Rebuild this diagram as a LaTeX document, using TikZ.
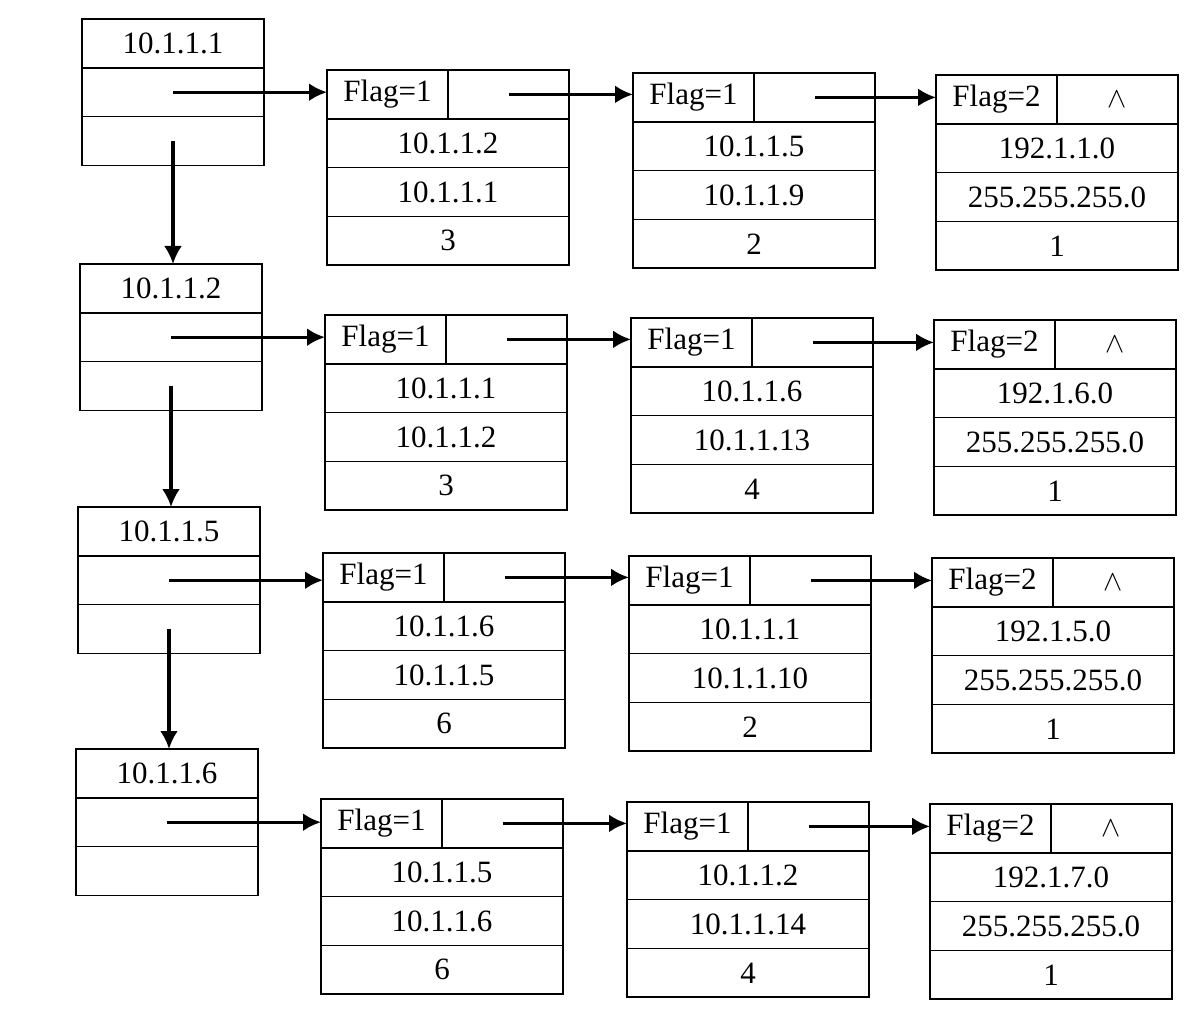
\documentclass[tikz,border=0pt]{standalone}
\usepackage{fontspec}
\setmainfont{Liberation Serif}
\usetikzlibrary{arrows.meta, positioning}
\tikzset{
    cell/.style={
        rectangle, draw=black, line width=0.8pt, inner sep=0pt, outer sep=0pt,
        minimum height=24.4pt, text centered, font=\fontsize{15.5}{18}\selectfont
    },
    headcell/.style={cell, minimum width=91pt},
    reccell/.style={cell, minimum width=121pt},
    halfcell/.style={cell, minimum width=60.5pt},
    link/.style={draw=black, line width=1.6pt, -{Latex[length=9pt, width=9pt]}}
}

\begin{document}
\begin{tikzpicture}[x=0.5pt, y=-0.5pt]
    \useasboundingbox (0,0) rectangle (1198,1015);

    % One row per head node: head x / head top / record shift / texts
    \foreach \r/\hx/\hy/\dy/\ip/\aa/\ab/\ac/\ba/\bb/\bc/\net in {
        1/82/19/51/10.1.1.1/10.1.1.2/10.1.1.1/3/10.1.1.5/10.1.1.9/2/192.1.1.0,
        2/80/264/51/10.1.1.2/10.1.1.1/10.1.1.2/3/10.1.1.6/10.1.1.13/4/192.1.6.0,
        3/78/507/46/10.1.1.5/10.1.1.6/10.1.1.5/6/10.1.1.1/10.1.1.10/2/192.1.5.0,
        4/76/749/50/10.1.1.6/10.1.1.5/10.1.1.6/6/10.1.1.2/10.1.1.14/4/192.1.7.0} {

        % Head node
        \node[headcell, anchor=north west] (h\r-a) at (\hx,\hy) {\ip};
        \node[headcell, below=0pt of h\r-a] (h\r-b) {};
        \node[headcell, below=0pt of h\r-b] (h\r-c) {};

        % First record
        \node[halfcell, anchor=north west] (a\r-f) at (\hx+245,\hy+\dy) {Flag=1};
        \node[halfcell, right=0pt of a\r-f] (a\r-p) {};
        \node[reccell, anchor=north west] (a\r-1) at (a\r-f.south west) {\aa};
        \node[reccell, below=0pt of a\r-1] (a\r-2) {\ab};
        \node[reccell, below=0pt of a\r-2] (a\r-3) {\ac};

        % Second record
        \node[halfcell, anchor=north west] (b\r-f) at (\hx+551,\hy+\dy+3) {Flag=1};
        \node[halfcell, right=0pt of b\r-f] (b\r-p) {};
        \node[reccell, anchor=north west] (b\r-1) at (b\r-f.south west) {\ba};
        \node[reccell, below=0pt of b\r-1] (b\r-2) {\bb};
        \node[reccell, below=0pt of b\r-2] (b\r-3) {\bc};

        % Last record
        \node[halfcell, anchor=north west] (c\r-f) at (\hx+854,\hy+\dy+5) {Flag=2};
        \node[halfcell, right=0pt of c\r-f] (c\r-p) {\raisebox{-2pt}{\fontsize{14}{15}\selectfont$\wedge$}};
        \node[reccell, anchor=north west] (c\r-1) at (c\r-f.south west) {\net};
        \node[reccell, below=0pt of c\r-1] (c\r-2) {255.255.255.0};
        \node[reccell, below=0pt of c\r-2] (c\r-3) {1};

        % Links along the row
        \draw[link] (h\r-b.center) -- (h\r-b.center -| a\r-f.west);
        \draw[link] (a\r-p.center) -- (a\r-p.center -| b\r-f.west);
        \draw[link] (b\r-p.center) -- (b\r-p.center -| c\r-f.west);
    }

    % Links between head nodes
    \foreach \r/\s in {1/2, 2/3, 3/4} {
        \draw[link] (h\r-c.center) -- (h\r-c.center |- h\s-a.north);
    }
\end{tikzpicture}
\end{document}
